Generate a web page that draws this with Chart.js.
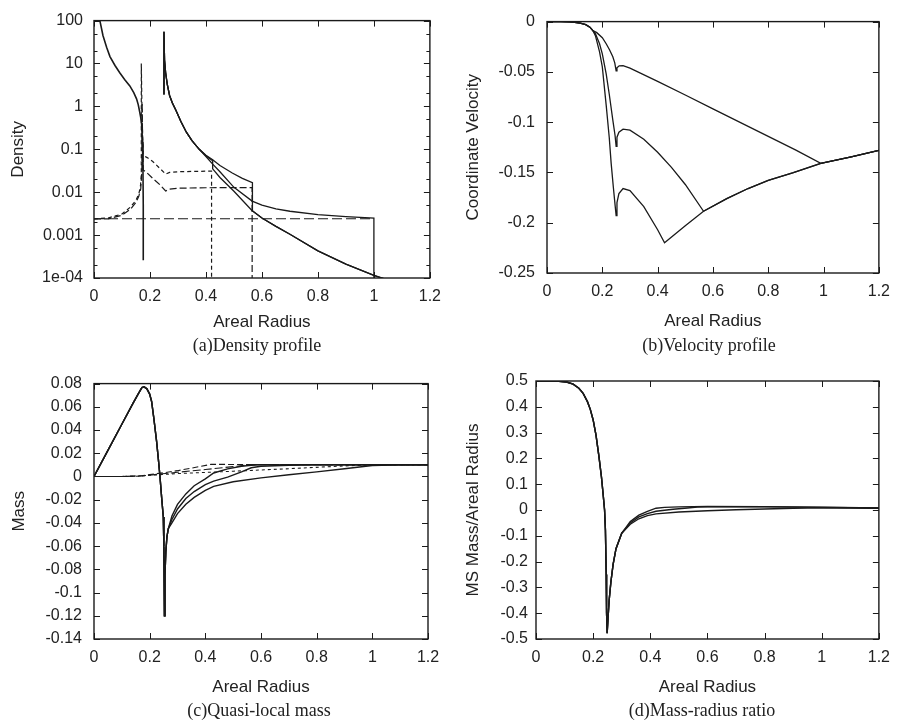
<!DOCTYPE html>
<html><head><meta charset="utf-8">
<script src="https://cdn.jsdelivr.net/npm/chart.js@4.4.0/dist/chart.umd.min.js"></script>
<style>
html,body{margin:0;padding:0;background:#fff;}
body{width:899px;height:724px;position:relative;overflow:hidden;}
canvas{position:absolute;}
.cap{position:absolute;font-family:"Liberation Serif","Times New Roman",serif;font-size:18px;color:#222;white-space:nowrap;transform:translate(-50%,-50%);}
</style></head><body>
<canvas id="ca" width="450" height="350" style="left:0;top:0"></canvas>
<canvas id="cb" width="449" height="350" style="left:450px;top:0"></canvas>
<canvas id="cc" width="450" height="362" style="left:0;top:362px"></canvas>
<canvas id="cd" width="449" height="362" style="left:450px;top:362px"></canvas>
<div class="cap" style="left:257px;top:345px">(a)Density profile</div>
<div class="cap" style="left:709px;top:345px">(b)Velocity profile</div>
<div class="cap" style="left:259px;top:710px">(c)Quasi-local mass</div>
<div class="cap" style="left:702px;top:710px">(d)Mass-radius ratio</div>
<script>
// ---------- tick values / labels ----------
const xTickVals = [0, 0.2, 0.4, 0.6, 0.8, 1, 1.2];
const xTickLabels = ["0", "0.2", "0.4", "0.6", "0.8", "1", "1.2"];
const aTickVals = [1e-4, 1e-3, 1e-2, 0.1, 1, 10, 100];
const aTickLabels = ["1e-04", "0.001", "0.01", "0.1", "1", "10", "100"];
const aMinorTicks = [2e-4, 5e-4, 2e-3, 5e-3, 0.02, 0.05, 0.2, 0.5, 2, 5, 20, 50];
const bTickVals = [-0.25, -0.2, -0.15, -0.1, -0.05, 0];
const bTickLabels = ["-0.25", "-0.2", "-0.15", "-0.1", "-0.05", "0"];
const cTickVals = [-0.14, -0.12, -0.1, -0.08, -0.06, -0.04, -0.02, 0, 0.02, 0.04, 0.06, 0.08];
const cTickLabels = ["-0.14", "-0.12", "-0.1", "-0.08", "-0.06", "-0.04", "-0.02", "0", "0.02", "0.04", "0.06", "0.08"];
const dTickVals = [-0.5, -0.4, -0.3, -0.2, -0.1, 0, 0.1, 0.2, 0.3, 0.4, 0.5];
const dTickLabels = ["-0.5", "-0.4", "-0.3", "-0.2", "-0.1", "0", "0.1", "0.2", "0.3", "0.4", "0.5"];

// ---------- (a) density ----------
const aCoreX = [0.012, 0.021, 0.032, 0.045, 0.057, 0.075, 0.092, 0.11, 0.128, 0.142, 0.152, 0.158, 0.163, 0.167, 0.17, 0.173, 0.175, 0.176, 0.176];
const aCoreY = [200, 100, 45, 24, 14.5, 9, 6.1, 4.2, 3.0, 2.1, 1.5, 1.1, 0.76, 0.55, 0.4, 0.15, 0.03, 0.005, 0.00026];
const aShellX = [0.25, 0.25, 0.252, 0.256, 0.262, 0.27, 0.28, 0.293, 0.31, 0.33, 0.35, 0.376];
const aShellY = [1.9, 55, 12, 6, 3.2, 1.8, 1.2, 0.8, 0.45, 0.25, 0.16, 0.1];
const aT1X = [0.4, 0.424, 0.424, 0.45, 0.5, 0.565, 0.6, 0.65, 0.7, 0.8, 0.9, 1.0, 1.05];
const aT1Y = [0.071, 0.054, 0.035, 0.022, 0.0105, 0.0037, 0.0025, 0.0016, 0.00105, 0.00043, 0.00021, 0.000115, 0.00009];
const aT2X = [0.4, 0.424, 0.45, 0.494, 0.53, 0.566, 0.566, 0.6, 0.65, 0.7, 0.8, 0.9, 1.0, 1.05];
const aT2Y = [0.073, 0.057, 0.042, 0.028, 0.021, 0.0166, 0.0037, 0.0025, 0.0016, 0.00105, 0.00043, 0.00021, 0.000115, 0.00009];
const aT3X = [0.4, 0.424, 0.45, 0.5, 0.565, 0.6, 0.65, 0.7, 0.8, 0.9, 1.0, 1.0];
const aT3Y = [0.068, 0.045, 0.03, 0.013, 0.0062, 0.005, 0.0041, 0.0036, 0.003, 0.0027, 0.0025, 0.00001];
const aD0X = [0, 1.0];
const aD0Y = [0.0024, 0.0024];
const aD1X = [0, 0.05, 0.1, 0.13, 0.15, 0.16, 0.166, 0.169, 0.169, 0.172, 0.176, 0.19, 0.21, 0.235, 0.256, 0.27, 0.3, 0.35, 0.42, 0.42];
const aD1Y = [0.0024, 0.0025, 0.0031, 0.0045, 0.0065, 0.009, 0.014, 0.025, 10, 0.5, 0.072, 0.064, 0.052, 0.036, 0.0265, 0.029, 0.030, 0.0305, 0.031, 0.00001];
const aD2X = [0, 0.05, 0.1, 0.13, 0.15, 0.16, 0.167, 0.171, 0.172, 0.174, 0.176, 0.19, 0.21, 0.235, 0.256, 0.27, 0.3, 0.4, 0.565, 0.565];
const aD2Y = [0.0024, 0.0024, 0.0029, 0.004, 0.0058, 0.008, 0.012, 0.03, 1.2, 0.1, 0.033, 0.028, 0.021, 0.015, 0.0107, 0.0118, 0.0124, 0.0127, 0.0128, 0.00001];

// ---------- (b) velocity ----------
const vCommonX = [0, 0.05, 0.08, 0.1, 0.12, 0.14, 0.155, 0.166];
const vCommonY = [0, 0, -0.0003, -0.0008, -0.0016, -0.003, -0.0055, -0.009];
const vOuterX = [0.5, 0.566, 0.65, 0.727, 0.8, 0.888, 0.99, 1.1, 1.2];
const vOuterY = [-0.203, -0.1886, -0.176, -0.166, -0.158, -0.1505, -0.141, -0.1345, -0.128];
const v1X = [0.18, 0.2, 0.214, 0.226, 0.238, 0.245, 0.25, 0.253, 0.261, 0.275, 0.3, 0.4, 0.5, 0.6, 0.7, 0.8, 0.9, 0.99, 1.1, 1.2];
const v1Y = [-0.011, -0.016, -0.022, -0.028, -0.035, -0.041, -0.049, -0.046, -0.044, -0.0437, -0.0462, -0.0595, -0.073, -0.0868, -0.1005, -0.1142, -0.1278, -0.141, -0.1345, -0.128];
const v2X = [0.175, 0.19, 0.2, 0.214, 0.225, 0.238, 0.246, 0.25, 0.253, 0.26, 0.275, 0.3, 0.35, 0.4, 0.45, 0.5, 0.566];
const v2Y = [-0.012, -0.022, -0.032, -0.052, -0.072, -0.098, -0.113, -0.124, -0.115, -0.11, -0.107, -0.108, -0.117, -0.13, -0.145, -0.162, -0.1886];
const v3X = [0.175, 0.19, 0.2, 0.214, 0.225, 0.232, 0.24, 0.246, 0.25, 0.253, 0.26, 0.275, 0.3, 0.35, 0.4, 0.425, 0.5];
const v3Y = [-0.014, -0.03, -0.045, -0.083, -0.115, -0.141, -0.165, -0.182, -0.193, -0.18, -0.171, -0.166, -0.168, -0.184, -0.207, -0.22, -0.203];

// ---------- (c) quasi-local mass ----------
const mRiseX = [0, 0.05, 0.1, 0.14, 0.16, 0.172, 0.18, 0.19, 0.2, 0.207, 0.215, 0.225, 0.232, 0.237, 0.243, 0.249, 0.251, 0.253, 0.255, 0.258, 0.262, 0.267];
const mRiseY = [0, 0.0225, 0.045, 0.063, 0.0715, 0.0765, 0.0772, 0.0755, 0.071, 0.0646, 0.05, 0.03, 0.013, 0, -0.018, -0.035, -0.06, -0.12, -0.085, -0.065, -0.052, -0.045];
const mS1X = [0.28, 0.3, 0.33, 0.36, 0.4, 0.43, 0.48, 0.53, 0.565, 0.6, 0.7, 1.2];
const mS1Y = [-0.034, -0.024, -0.015, -0.008, -0.002, 0.003, 0.0065, 0.0088, 0.0097, 0.01, 0.0101, 0.0101];
const mS2X = [0.28, 0.3, 0.33, 0.36, 0.4, 0.43, 0.48, 0.53, 0.565, 0.6, 0.7, 0.8, 1.2];
const mS2Y = [-0.037, -0.028, -0.019, -0.013, -0.007, -0.004, -0.0005, 0.004, 0.0075, 0.0088, 0.0097, 0.01, 0.0101];
const mS3X = [0.28, 0.3, 0.33, 0.36, 0.4, 0.43, 0.5, 0.6, 0.7, 0.8, 0.9, 1.0, 1.1, 1.2];
const mS3Y = [-0.04, -0.032, -0.024, -0.018, -0.012, -0.0085, -0.0045, -0.0012, 0.0015, 0.004, 0.0067, 0.0095, 0.0101, 0.0101];
const mD1X = [0, 0.1, 0.17, 0.2, 0.25, 0.3, 0.35, 0.42, 1.2];
const mD1Y = [0, 0, 0.0006, 0.0016, 0.0032, 0.005, 0.0072, 0.0104, 0.0101];
const mD2X = [0, 0.1, 0.17, 0.2, 0.3, 0.4, 0.5, 0.565, 1.2];
const mD2Y = [0, 0, 0.0004, 0.0012, 0.0036, 0.006, 0.0085, 0.0102, 0.0101];
const mD3X = [0, 0.1, 0.17, 0.2, 0.3, 0.5, 0.7, 0.884, 1.0, 1.2];
const mD3Y = [0, 0, 0.0003, 0.001, 0.0025, 0.0045, 0.0067, 0.0089, 0.0101, 0.0101];

// ---------- (d) mass-radius ratio ----------
const rCommonX = [0, 0.05, 0.08, 0.107, 0.13, 0.15, 0.165, 0.18, 0.19, 0.2, 0.21, 0.22, 0.229, 0.235, 0.24, 0.243, 0.2457, 0.247, 0.249, 0.252, 0.256, 0.262, 0.27, 0.28, 0.3];
const rCommonY = [0.5, 0.5, 0.499, 0.496, 0.488, 0.472, 0.452, 0.42, 0.39, 0.349, 0.29, 0.21, 0.129, 0.06, 0.0, -0.078, -0.25, -0.4, -0.478, -0.42, -0.35, -0.28, -0.21, -0.15, -0.09];
const rT1X = [0.33, 0.36, 0.39, 0.42, 0.45, 0.5, 0.6, 0.8, 1.0, 1.2];
const rT1Y = [-0.045, -0.02, -0.005, 0.007, 0.01, 0.012, 0.014, 0.013, 0.011, 0.008];
const rT2X = [0.33, 0.36, 0.39, 0.42, 0.48, 0.53, 0.565, 0.6, 0.8, 1.0, 1.2];
const rT2Y = [-0.05, -0.027, -0.014, -0.005, 0.003, 0.008, 0.011, 0.012, 0.012, 0.01, 0.008];
const rT3X = [0.33, 0.36, 0.39, 0.42, 0.5, 0.6, 0.7, 0.8, 0.9, 1.0, 1.2];
const rT3Y = [-0.055, -0.034, -0.022, -0.015, -0.008, -0.003, 0.001, 0.004, 0.007, 0.009, 0.007];

// ---------- helpers ----------
const INK = '#1a1a1a';
const TXT = '#222';
const SANS = '"Liberation Sans", Arial, Helvetica, sans-serif';
function pts(xs, ys) { return xs.map((x, i) => ({ x: x, y: ys[i] })); }
function ser(xs, ys, dash, w) {
  return { data: pts(xs, ys), borderColor: INK, borderWidth: w || 1.4, borderDash: dash || [],
           pointRadius: 0, tension: 0, fill: false, showLine: true };
}

const frame = {
  id: 'frame',
  afterDatasetsDraw(chart) {
    const { ctx, chartArea: a, scales: { x, y } } = chart;
    const o = chart.options.plugins.frame || {};
    ctx.save();
    ctx.strokeStyle = INK;
    ctx.lineWidth = 1;
    ctx.beginPath();
    const L = 6, Lm = 3.5;
    x.ticks.forEach(t => {
      const p = Math.round(x.getPixelForValue(t.value)) + 0.5;
      ctx.moveTo(p, a.bottom); ctx.lineTo(p, a.bottom - L);
      ctx.moveTo(p, a.top); ctx.lineTo(p, a.top + L);
    });
    y.ticks.forEach(t => {
      const p = Math.round(y.getPixelForValue(t.value)) + 0.5;
      ctx.moveTo(a.left, p); ctx.lineTo(a.left + L, p);
      ctx.moveTo(a.right, p); ctx.lineTo(a.right - L, p);
    });
    (o.minor || []).forEach(v => {
      const p = Math.round(y.getPixelForValue(v)) + 0.5;
      ctx.moveTo(a.left, p); ctx.lineTo(a.left + Lm, p);
      ctx.moveTo(a.right, p); ctx.lineTo(a.right - Lm, p);
    });
    ctx.stroke();
    ctx.lineWidth = 1.4;
    ctx.strokeRect(a.left, a.top, a.right - a.left, a.bottom - a.top);
    ctx.restore();
  }
};

function build(id, o) {
  const cv = document.getElementById(id);
  const W = cv.width, H = cv.height, P = o.plot;
  const tickFont = { family: SANS, size: 16 };
  const titleFont = { family: SANS, size: 17 };
  const LH = 17 * 1.2;
  const xH = o.xTitleY + LH / 2 - P.b;
  return new Chart(cv, {
    type: 'scatter',
    data: { datasets: o.datasets },
    plugins: [frame],
    options: {
      responsive: false, animation: false, events: [],
      layout: { autoPadding: false, padding: { left: 0, top: P.t, right: W - P.r, bottom: H - P.b - xH } },
      plugins: { legend: { display: false }, tooltip: { enabled: false }, frame: { minor: o.minor } },
      scales: {
        x: {
          type: 'linear', min: 0, max: 1.2,
          afterBuildTicks: s => { s.ticks = xTickVals.map(v => ({ value: v })); },
          afterFit: s => { s.height = xH; },
          grid: { display: false, drawTicks: false }, border: { display: false },
          ticks: { autoSkip: false, maxRotation: 0, padding: o.xPad, color: TXT, font: tickFont,
                   callback: (v, i) => xTickLabels[i] },
          title: { display: true, text: 'Areal Radius', color: TXT, font: titleFont, padding: { top: 0, bottom: 0 } }
        },
        y: {
          type: o.yType, min: o.yMin, max: o.yMax,
          afterBuildTicks: s => { s.ticks = o.yTicks.map(v => ({ value: v })); },
          afterFit: s => { s.width = P.l; },
          grid: { display: false, drawTicks: false }, border: { display: false },
          ticks: { autoSkip: false, padding: o.yPad, color: TXT, font: tickFont,
                   callback: (v, i) => o.yLabels[i] },
          title: { display: true, text: o.yTitle, color: TXT, font: titleFont,
                   padding: { top: o.yTitleX - LH / 2, bottom: 0 } }
        }
      }
    }
  });
}

// ---------- panel (a) ----------
build('ca', {
  plot: { l: 94, t: 13, r: 432, b: 278 }, xTitleY: 322, xPad: 9, yPad: 11, yTitleX: 18,
  yType: 'logarithmic', yMin: 1e-4, yMax: 100, yTicks: aTickVals, yLabels: aTickLabels,
  yTitle: 'Density', minor: aMinorTicks,
  datasets: [
    ser(aD0X, aD0Y, [10, 4], 1.1),
    ser(aD1X, aD1Y, [4, 3], 1.2),
    ser(aD2X, aD2Y, [7, 3], 1.2),
    ser(aCoreX, aCoreY, [], 1.6),
    ser(aShellX.concat(aT1X), aShellY.concat(aT1Y), [], 1.3),
    ser(aShellX.concat(aT2X), aShellY.concat(aT2Y), [], 1.3),
    ser(aShellX.concat(aT3X), aShellY.concat(aT3Y), [], 1.3)
  ]
});

// ---------- panel (b) ----------
build('cb', {
  plot: { l: 97, t: 14, r: 432, b: 273 }, xTitleY: 321, xPad: 9, yPad: 12, yTitleX: 23,
  yType: 'linear', yMin: -0.25, yMax: 0, yTicks: bTickVals, yLabels: bTickLabels,
  yTitle: 'Coordinate Velocity',
  datasets: [
    ser(vCommonX.concat(v1X), vCommonY.concat(v1Y), [], 1.3),
    ser(vCommonX.concat(v2X).concat(vOuterX.slice(1)), vCommonY.concat(v2Y).concat(vOuterY.slice(1)), [], 1.3),
    ser(vCommonX.concat(v3X).concat(vOuterX.slice(1)), vCommonY.concat(v3Y).concat(vOuterY.slice(1)), [], 1.3)
  ]
});

// ---------- panel (c) ----------
build('cc', {
  plot: { l: 94, t: 20, r: 428, b: 277 }, xTitleY: 325, xPad: 9, yPad: 12, yTitleX: 19,
  yType: 'linear', yMin: -0.14, yMax: 0.08, yTicks: cTickVals, yLabels: cTickLabels,
  yTitle: 'Mass',
  datasets: [
    ser(mD1X, mD1Y, [6, 3], 1.1),
    ser(mD2X, mD2Y, [8, 3], 1.1),
    ser(mD3X, mD3Y, [3, 3], 1.1),
    ser(mRiseX.concat(mS1X), mRiseY.concat(mS1Y), [], 1.4),
    ser(mRiseX.concat(mS2X), mRiseY.concat(mS2Y), [], 1.4),
    ser(mRiseX.concat(mS3X), mRiseY.concat(mS3Y), [], 1.4)
  ]
});

// ---------- panel (d) ----------
build('cd', {
  plot: { l: 86, t: 19, r: 431, b: 277 }, xTitleY: 325, xPad: 9, yPad: 8, yTitleX: 23,
  yType: 'linear', yMin: -0.5, yMax: 0.5, yTicks: dTickVals, yLabels: dTickLabels,
  yTitle: 'MS Mass/Areal Radius',
  datasets: [
    ser(rCommonX.concat(rT1X), rCommonY.concat(rT1Y), [], 1.4),
    ser(rCommonX.concat(rT2X), rCommonY.concat(rT2Y), [], 1.4),
    ser(rCommonX.concat(rT3X), rCommonY.concat(rT3Y), [], 1.4)
  ]
});
</script>
</body></html>
